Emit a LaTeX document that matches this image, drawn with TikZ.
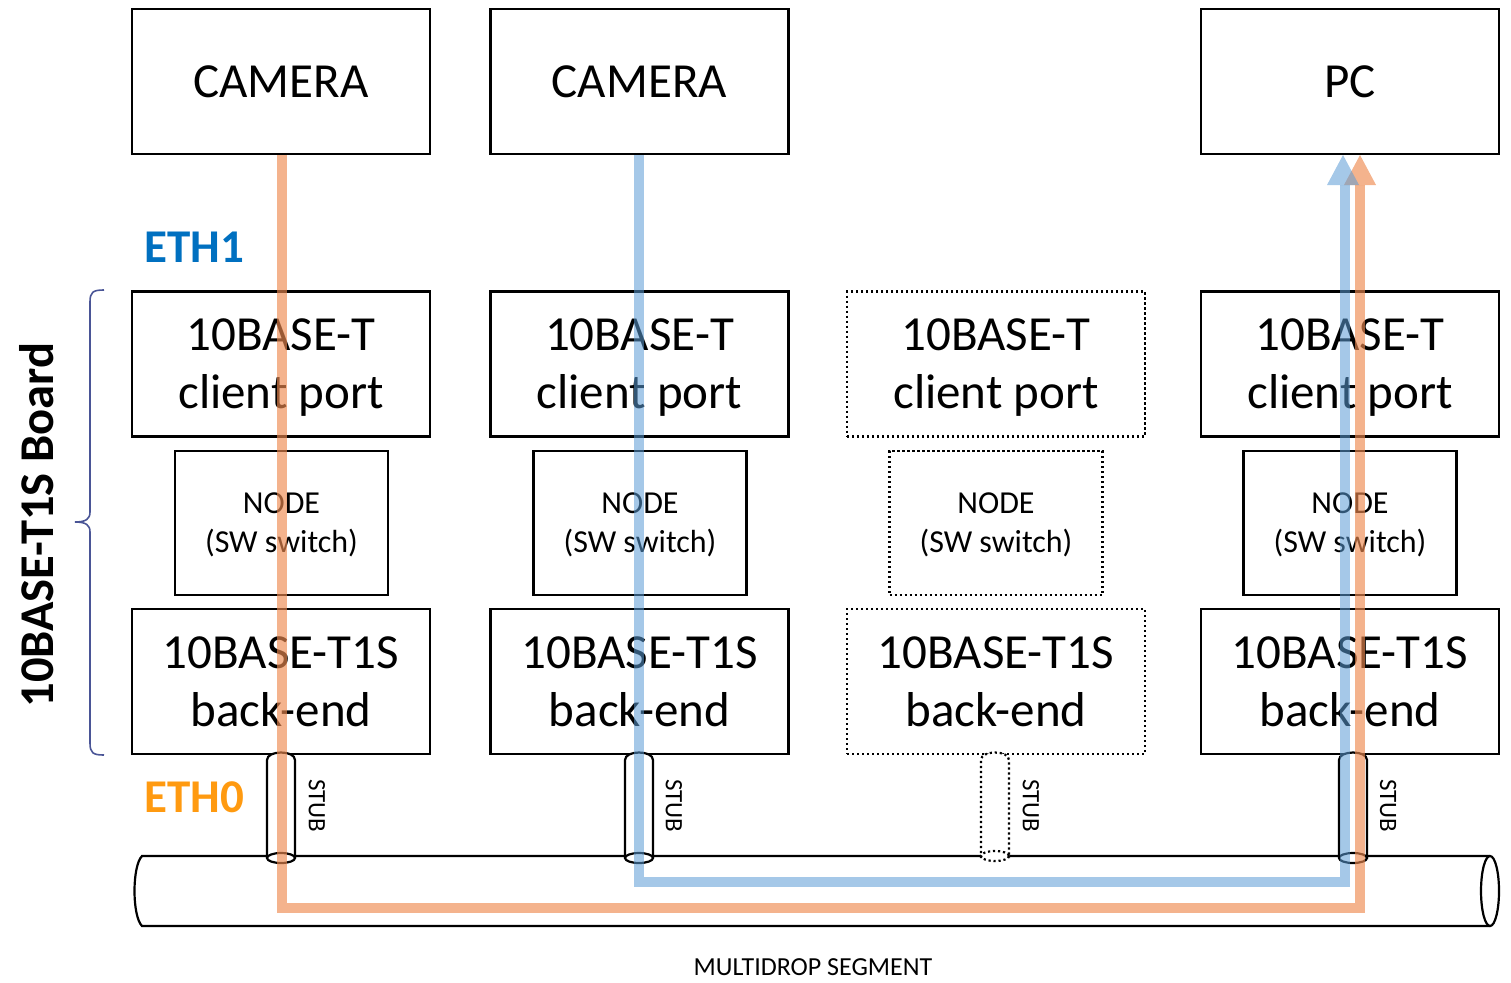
\documentclass[tikz,border=0pt]{standalone}
\usepackage{fontspec}
\setmainfont{Carlito}
\definecolor{eorange}{HTML}{EE8A50}
\definecolor{eblue}{HTML}{5B9BD5}
\definecolor{eth1col}{HTML}{0070C0}
\definecolor{eth0col}{HTML}{FF9A10}
\definecolor{bracecol}{HTML}{4A5596}
\tikzset{
  box/.style={draw=black, line width=2.2pt, minimum width=298pt, minimum height=145pt, inner sep=0pt, align=center, font=\fontsize{49}{58}\selectfont},
  nodebox/.style={draw=black, line width=2.2pt, minimum width=213pt, minimum height=144pt, inner sep=0pt, align=center, font=\fontsize{32}{39}\selectfont, text depth=0pt},
  dotbox/.style={dash pattern=on 2.2pt off 2.8pt},
  stubtxt/.style={rotate=-90, font=\fontsize{25}{25}\selectfont},
  flowo/.style={draw=eorange, line width=10pt, opacity=0.65},
  flowb/.style={draw=eblue, line width=10pt, opacity=0.55},
  cyl/.style={draw=black, line width=2.2pt},
}
\begin{document}
\begin{tikzpicture}[x=1pt,y=-1pt]
\useasboundingbox (0,0) rectangle (1511,982);
% top devices
\node[box] (cam1) at (281,81.5) {CAMERA};
\node[box] (cam2) at (639.5,81.5) {CAMERA};
\node[box] (pc) at (1350,81.5) {PC};
% client ports
\node[box, text depth=0pt] (cp1) at (281,364) {10BASE-T\\client port};
\node[box, text depth=0pt] (cp2) at (639.5,364) {10BASE-T\\client port};
\node[box, text depth=0pt, dotbox] (cp3) at (996,364) {10BASE-T\\client port};
\node[box, text depth=0pt] (cp4) at (1350,364) {10BASE-T\\client port};
% SW switch nodes
\node[nodebox] (n1) at (281.5,523) {NODE\\(SW switch)};
\node[nodebox] (n2) at (640,523) {NODE\\(SW switch)};
\node[nodebox,dotbox] (n3) at (996,523) {NODE\\(SW switch)};
\node[nodebox] (n4) at (1350,523) {NODE\\(SW switch)};
% back-ends
\node[box] (be1) at (281,681.5) {10BASE-T1S\\back-end};
\node[box] (be2) at (639.5,681.5) {10BASE-T1S\\back-end};
\node[box,dotbox] (be3) at (996,681.5) {10BASE-T1S\\back-end};
\node[box] (be4) at (1350,681.5) {10BASE-T1S\\back-end};
% bus cylinder
\draw[cyl] (1490,856) -- (142,856) .. controls (132,866) and (132,916) .. (142,926) -- (1490,926);
\draw[cyl] (1490,891) ellipse [x radius=9, y radius=35];
% stubs
\foreach \x in {281,639,1353}{
  \draw[cyl, fill=white] (\x-14,858) -- (\x-14,760) .. controls (\x-14,750) and (\x+14,750) .. (\x+14,760) -- (\x+14,858);
  \draw[cyl] (\x,858) ellipse [x radius=14, y radius=5];
}
\draw[cyl, dotbox, fill=white] (995-14,858) -- (995-14,760) .. controls (995-14,750) and (995+14,750) .. (995+14,760) -- (995+14,858);
\draw[cyl, dotbox] (995,856) ellipse [x radius=14, y radius=5];
\node[stubtxt] (s1) at (317,806) {STUB};
\node[stubtxt] (s2) at (674,806) {STUB};
\node[stubtxt] (s3) at (1031,806) {STUB};
\node[stubtxt] (s4) at (1388,806) {STUB};
% flows
\coordinate (ob) at (282,908);
\coordinate (obr) at (1360,908);
\coordinate (pco) at (1360,185);
\coordinate (bb) at (639,882);
\coordinate (bbr) at (1345,882);
\coordinate (pcb) at (1345,185);
\draw[flowo] (cam1.south -| ob) -- (ob) -- (obr) -- (pco);
\fill[eorange, opacity=0.65] (1360,155) -- (1376,185) -- (1344,185) -- cycle;
\draw[flowb] (cam2.south -| bb) -- (bb) -- (bbr) -- (pcb);
\fill[eblue, opacity=0.55] (1343,155) -- (1359,185) -- (1327,185) -- cycle;
% labels
\node[font=\fontsize{47}{47}\selectfont\bfseries, text=eth1col] (eth1) at (194,247) {ETH1};
\node[font=\fontsize{47}{47}\selectfont\bfseries, text=eth0col] (eth0) at (194,797) {ETH0};
\node[font=\fontsize{26}{26}\selectfont, inner sep=0pt] (seg) at (813,967) {MULTIDROP SEGMENT};
\node[rotate=90, font=\fontsize{48.5}{48.5}\selectfont\bfseries] (board) at (37,525) {10BASE-T1S Board};
% brace
\draw[bracecol, line width=1.6pt] (104,290) .. controls (93,290) and (90,292) .. (90,302) -- (90,512) .. controls (90,519) and (86,522) .. (75,522) .. controls (86,522) and (90,525) .. (90,532) -- (90,743) .. controls (90,753) and (93,755) .. (104,755);
\end{tikzpicture}
\end{document}
